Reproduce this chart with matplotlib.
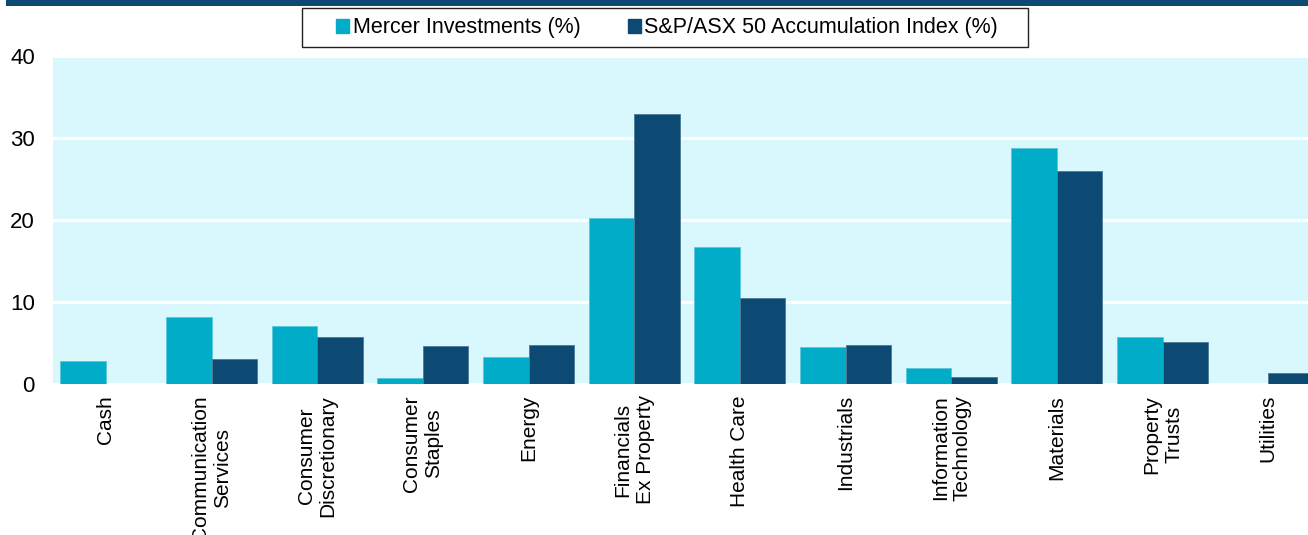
import matplotlib
matplotlib.use("Agg")
import matplotlib.pyplot as plt
import numpy as np
from matplotlib.patches import Rectangle, Patch

plt.rcParams["font.family"] = ["Liberation Sans", "DejaVu Sans"]

# sector weights
sectors = [
    "Cash", "Communication\nServices", "Consumer\nDiscretionary", "Consumer\nStaples",
    "Energy", "Financials\nEx Property", "Health Care", "Industrials",
    "Information\nTechnology", "Materials", "Property\nTrusts", "Utilities",
]
mercer = [2.8, 8.2, 7.1, 0.7, 3.3, 20.2, 16.7, 4.5, 1.9, 28.8, 5.7, 0.0]
index = [0.0, 3.1, 5.7, 4.6, 4.8, 32.9, 10.5, 4.8, 0.8, 26.0, 5.1, 1.4]
series_names = ["Mercer Investments (%)", "S&P/ASX 50 Accumulation Index (%)"]
yticks = [0, 10, 20, 30, 40]

c_mercer = "#00acc8"
c_index = "#0c4a73"
bg = "#d8f8fd"

W, H = 1308, 535
fig = plt.figure(figsize=(W / 100, H / 100), dpi=100)
# plot area runs a little past the right edge of the picture
ax = fig.add_axes([53 / W, 1 - 384 / H, (1321 - 53) / W, (384 - 56) / H])
ax.set_facecolor(bg)

x = np.arange(len(sectors))
bw = 0.43
ax.bar(x - bw / 2, mercer, bw, color=c_mercer, edgecolor="#5cc6d8", linewidth=0.6, zorder=3)
ax.bar(x + bw / 2, index, bw, color=c_index, edgecolor="#4d7a96", linewidth=0.6, zorder=3)

ax.set_xlim(-0.5, len(sectors) - 0.5)
ax.set_ylim(0, 40)
ax.set_yticks(yticks)
ax.yaxis.grid(True, color="white", linewidth=2.2, zorder=1)
ax.set_axisbelow(True)
ax.set_xticks(x)
ax.set_xticklabels(sectors, rotation=90, ha="center", va="top",
                   multialignment="center", fontsize=15)
ax.tick_params(axis="x", length=0, pad=8)
ax.tick_params(axis="y", length=0, pad=13, labelsize=16)
for s in ax.spines.values():
    s.set_visible(False)

# dark band across the top
fig.patches.append(Rectangle((6 / W, 1 - 5.5 / H), 1, 5.5 / H, transform=fig.transFigure,
                             facecolor=c_index, edgecolor="none"))

# legend with a plain square box
fig.patches.append(Rectangle((302 / W, 1 - 47 / H), (1028 - 302) / W, 39 / H,
                             transform=fig.transFigure, facecolor="white",
                             edgecolor="#222222", linewidth=1.0, zorder=5))
handles = [Patch(color=c_mercer), Patch(color=c_index)]
leg = fig.legend(handles, series_names, loc="center", bbox_to_anchor=(667 / W, 1 - 28 / H),
                 ncol=2, frameon=False, fontsize=15.5, handlelength=0.6, handleheight=0.6,
                 handletextpad=0.15, columnspacing=2.2)
leg.set_zorder(6)

fig.savefig("out.png", dpi=100)
